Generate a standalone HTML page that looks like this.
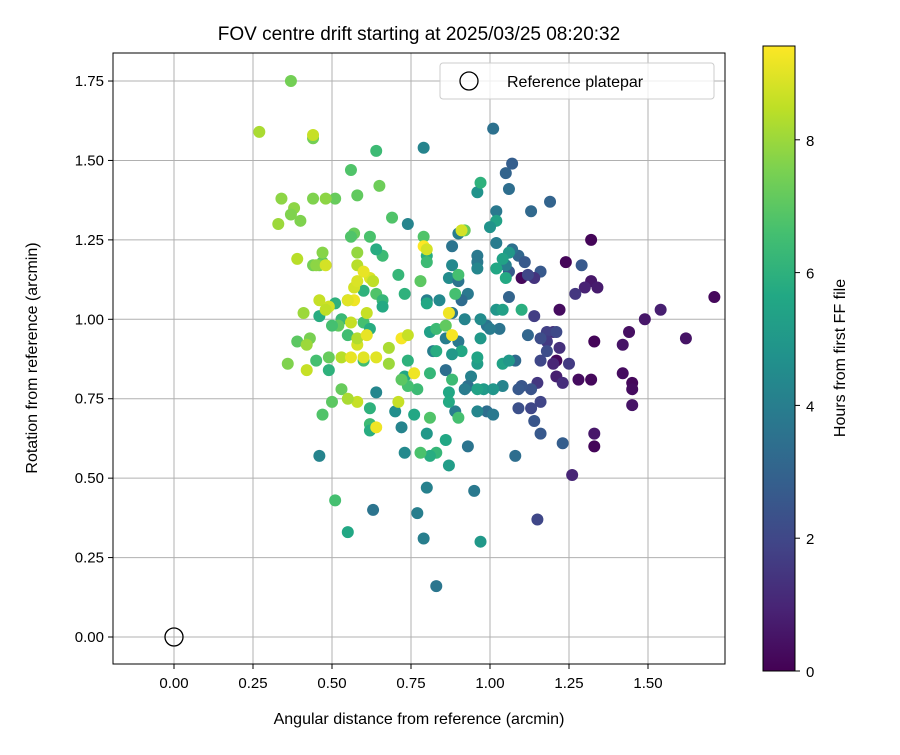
<!DOCTYPE html>
<html><head><meta charset="utf-8"><style>
body{margin:0;background:#fff;}
svg{font-family:"Liberation Sans","DejaVu Sans",sans-serif;}
</style></head><body>
<svg id="chart" width="900" height="750" xmlns="http://www.w3.org/2000/svg">
<rect width="900" height="750" fill="#fff"/>
<text x="419" y="40" font-size="19" text-anchor="middle" fill="#000">FOV centre drift starting at 2025/03/25 08:20:32</text>
<g id="grid"></g>
<g id="points"></g>
<g id="axes"></g>
<text x="419" y="724" font-size="16" text-anchor="middle">Angular distance from reference (arcmin)</text>
<text transform="translate(37,358) rotate(-90)" font-size="16" text-anchor="middle">Rotation from reference (arcmin)</text>
<g>
<rect x="440" y="63" width="274" height="36" fill="#fff" fill-opacity="0.8" stroke="#ccc" rx="3"/>
<circle cx="469" cy="81" r="9" fill="none" stroke="#000" stroke-width="1.3"/>
<text x="507" y="87" font-size="16">Reference platepar</text>
</g>
<defs><linearGradient id="vir" x1="0" y1="1" x2="0" y2="0"></linearGradient></defs>
<g>
<rect x="763" y="46" width="32" height="625" fill="url(#vir)" stroke="#000" stroke-width="1"/>
<g id="cbticks"></g>
<text transform="translate(845,358) rotate(-90)" font-size="16" text-anchor="middle">Hours from first FF file</text>
</g>
</svg>
<script>
const xTicks=[0,0.25,0.5,0.75,1.0,1.25,1.5];
const yTicks=[0,0.25,0.5,0.75,1.0,1.25,1.5,1.75];
const cTicks=[0,2,4,6,8];
const pts=[[1.71,1.07,0.2],[1.62,0.94,0.5],[1.54,1.03,0.8],[1.49,1.0,0.6],[1.44,0.96,0.4],[1.42,0.92,0.5],[1.42,0.83,0.3],[1.45,0.8,0.2],[1.45,0.78,0.3],[1.45,0.73,0.5],[1.32,1.25,0.1],[1.32,1.12,0.6],[1.34,1.1,0.7],[1.3,1.1,0.9],[1.33,0.93,0.1],[1.28,0.81,0.3],[1.32,0.81,0.2],[1.33,0.64,0.6],[1.33,0.6,0.1],[1.24,1.18,0.1],[1.27,1.08,1.5],[1.22,1.03,0.3],[1.21,0.87,0.2],[1.25,0.86,1.6],[1.21,0.82,0.8],[1.23,0.8,1.2],[1.26,0.51,1.0],[1.1,1.13,0.2],[1.14,1.01,1.7],[1.2,0.96,1.2],[1.18,0.96,1.8],[1.18,0.93,1.6],[1.16,0.94,2.2],[1.16,0.87,2.0],[1.15,0.8,1.5],[1.13,0.78,2.4],[1.13,0.72,2.0],[1.16,0.74,1.9],[1.1,0.79,2.5],[1.09,0.78,2.6],[1.09,0.72,2.3],[1.15,0.37,2.0],[1.16,0.64,2.6],[1.14,0.68,2.5],[1.23,0.61,2.8],[1.2,0.86,1.0],[1.18,0.9,2.2],[1.22,0.91,1.3],[1.29,1.17,2.6],[1.16,1.15,2.6],[1.14,1.13,1.4],[1.19,1.37,3.0],[1.07,1.49,2.8],[1.05,1.46,3.0],[1.06,1.41,3.4],[1.13,1.34,3.2],[1.01,1.6,3.5],[1.06,1.15,2.7],[1.09,1.2,3.1],[1.07,1.22,3.5],[1.02,1.34,3.8],[1.02,1.24,3.9],[1.05,1.17,4.0],[1.06,1.07,3.0],[1.11,1.18,2.6],[1.08,0.87,3.2],[1.03,0.97,3.6],[0.99,0.98,3.6],[1.0,0.97,3.9],[1.12,0.95,3.1],[1.21,0.96,2.1],[1.12,1.14,2.0],[0.99,0.71,3.4],[1.01,0.7,3.8],[1.04,0.79,4.2],[1.08,0.57,3.4],[0.93,0.6,3.6],[0.95,0.46,3.8],[0.83,0.16,3.7],[0.79,0.31,4.0],[0.77,0.39,4.0],[0.8,0.47,4.1],[0.63,0.4,3.6],[0.46,0.57,4.2],[0.74,1.3,4.2],[0.79,1.54,4.2],[0.88,1.23,3.6],[0.9,1.27,4.0],[0.88,1.17,4.4],[0.93,1.08,3.8],[0.91,1.06,3.3],[0.92,1.0,4.2],[0.9,0.93,3.8],[0.94,0.82,4.1],[0.93,0.79,3.5],[0.92,0.78,3.9],[0.96,0.71,4.3],[0.89,0.71,4.0],[0.86,0.84,3.4],[0.86,0.94,4.0],[0.82,0.9,4.0],[0.8,1.06,4.0],[0.84,1.06,4.4],[0.88,1.02,3.7],[0.87,1.13,4.5],[0.9,1.12,3.6],[0.96,1.2,3.8],[0.96,1.18,3.8],[0.96,1.16,4.3],[0.97,1.0,4.5],[0.72,0.66,4.2],[0.73,0.58,4.4],[0.7,0.71,4.6],[0.64,0.77,4.3],
[0.96,1.4,4.8],[0.97,1.43,6.0],[1.02,1.31,5.4],[1.0,1.29,4.8],[1.06,1.21,5.0],[1.04,1.19,5.4],[1.02,1.16,5.6],[1.05,1.13,5.7],[1.02,1.03,4.9],[1.04,1.03,5.3],[1.1,1.03,5.9],[1.04,0.86,5.4],[1.06,0.87,5.0],[0.98,0.78,5.1],[1.01,0.78,4.9],[0.96,0.86,5.2],[0.96,0.88,5.5],[0.97,0.94,5.0],[0.96,0.78,5.4],[0.97,0.3,5.0],[0.91,0.9,5.6],[0.88,0.89,5.0],[0.88,0.81,6.4],[0.87,0.77,5.6],[0.87,0.74,5.7],[0.86,0.62,5.6],[0.87,0.54,5.2],[0.9,0.69,6.6],[0.83,0.58,6.2],[0.81,0.57,5.8],[0.8,0.64,5.0],[0.81,0.69,6.8],[0.78,0.58,6.7],[0.76,0.7,5.6],[0.77,0.78,6.4],[0.81,0.83,6.2],[0.83,0.9,5.8],[0.81,0.96,5.3],[0.83,0.97,6.4],[0.8,1.05,5.6],[0.78,1.12,7.0],[0.8,1.2,5.8],[0.8,1.18,6.4],[0.79,1.26,6.8],[0.9,1.14,6.6],[0.92,1.28,7.2],[0.89,1.08,6.6],[0.86,0.98,7.1],[0.73,0.82,5.6],[0.74,0.87,6.0],[0.74,0.79,6.6],[0.72,0.81,7.0],[0.71,1.14,6.2],[0.73,1.08,6.0],[0.69,1.32,6.8],[0.66,1.2,6.4],[0.64,1.22,5.8],[0.64,1.53,6.4],[0.65,1.42,7.3],[0.62,1.26,6.7],[0.64,1.08,6.8],[0.66,1.06,6.2],[0.66,1.04,5.7],[0.6,0.99,6.6],[0.62,0.97,5.8],[0.6,1.09,6.0],[0.56,1.47,6.8],[0.58,1.39,7.1],[0.57,1.27,7.2],[0.56,1.26,6.8],[0.55,1.06,7.0],[0.55,0.95,6.5],[0.51,1.05,6.0],[0.53,1.0,6.3],[0.52,0.98,7.1],[0.6,0.87,6.5],[0.62,0.72,6.0],[0.62,0.67,6.4],[0.62,0.65,5.8],[0.53,0.78,7.2],[0.5,0.74,7.0],[0.47,0.7,6.8],[0.46,1.01,5.8],[0.47,1.18,7.0],[0.51,1.38,7.2],[0.55,0.33,5.6],[0.51,0.43,6.6],[0.49,0.88,7.2],[0.49,0.84,6.0],[0.45,0.87,6.6],[0.5,0.98,6.6],[0.36,0.86,7.6],[0.39,0.93,7.0],[0.43,0.94,7.5],[0.42,0.92,8.0],[0.37,1.75,7.4],[0.44,1.57,7.4],[0.34,1.38,7.8],[0.38,1.35,7.8],[0.37,1.33,7.6],[0.4,1.31,7.6],[0.33,1.3,8.0],[0.44,1.38,7.6],[0.48,1.38,7.8],[0.58,1.21,7.9],[0.46,1.17,7.5],[0.44,1.17,7.4],[0.47,1.21,7.7],[0.45,1.17,7.8],[0.39,1.19,8.4],[0.41,1.02,8.0],[0.42,0.84,8.6],[0.27,1.59,8.2],[0.44,1.58,8.6],[0.46,1.06,8.6],[0.48,1.17,8.8],[0.49,1.04,8.7],[0.48,1.03,8.5],[0.53,0.88,8.4],[0.56,0.99,8.6],[0.58,1.17,8.4],[0.57,1.1,8.8],[0.58,0.92,8.8],[0.58,0.74,8.6],[0.58,0.94,8.3],[0.6,0.88,9.0],[0.61,0.95,9.1],[0.62,1.13,8.9],[0.63,1.12,8.5],[0.64,0.66,9.2],[0.64,0.88,9.0],[0.56,0.88,9.1],[0.57,1.06,9.2],[0.6,1.15,9.1],[0.61,1.02,8.6],[0.55,0.75,8.2],[0.68,0.86,8.0],[0.68,0.91,8.2],[0.71,0.74,8.6],[0.72,0.94,9.3],[0.74,0.95,8.6],[0.76,0.83,9.2],[0.79,1.23,9.4],[0.8,1.22,8.8],[0.87,1.02,9.2],[0.88,0.95,9.3],[0.91,1.28,8.8],[0.58,1.12,8.9],[0.55,1.06,9.0]];
const refPoint=[0,0];
const cMax=9.41;
const NS="http://www.w3.org/2000/svg";
const L=113,R=725,T=53,B=664;
const X=v=>174+v*316, Y=v=>637-v*317.7;
const CY=v=>671-v*66.4;
const vir=["#440154","#482475","#414487","#355f8d","#2a788e","#21918c","#22a884","#44bf70","#7ad151","#bddf26","#fde725"];
function hex(h){return [1,3,5].map(i=>parseInt(h.substr(i,2),16));}
function cmap(t){t=Math.max(0,Math.min(1,t))*10;const i=Math.min(9,Math.floor(t)),f=t-i;const a=hex(vir[i]),b=hex(vir[i+1]);return "rgb("+a.map((c,k)=>Math.round(c+(b[k]-c)*f)).join(",")+")";}
function mk(tag,attrs,parent){const e=document.createElementNS(NS,tag);for(const k in attrs)e.setAttribute(k,attrs[k]);parent.appendChild(e);return e;}
const grid=document.getElementById('grid'),axes=document.getElementById('axes'),pg=document.getElementById('points');
xTicks.forEach(v=>{
 const g=mk('line',{x1:X(v),x2:X(v),y1:T,y2:B,stroke:'#b0b0b0','stroke-width':1},grid);
 
 
 mk('line',{x1:X(v),x2:X(v),y1:B,y2:B+5,stroke:'#000'},axes);
 const t=mk('text',{x:X(v),y:B+24,'font-size':15,'text-anchor':'middle'},axes);t.textContent=v.toFixed(2);
 
 
});
yTicks.forEach(v=>{
 const g=mk('line',{x1:L,x2:R,y1:Y(v),y2:Y(v),stroke:'#b0b0b0','stroke-width':1},grid);
 
 
 mk('line',{x1:L-5,x2:L,y1:Y(v),y2:Y(v),stroke:'#000'},axes);
 const t=mk('text',{x:L-9,y:Y(v)+5,'font-size':15,'text-anchor':'end'},axes);t.textContent=v.toFixed(2);
 
 
});
const fr=mk('rect',{x:L,y:T,width:R-L,height:B-T,fill:'none',stroke:'#000','stroke-width':1},axes);


pts.forEach(p=>{
 const c=mk('circle',{cx:X(p[0]),cy:Y(p[1]),r:6,fill:cmap(p[2]/cMax)},pg);
 
 
});
const rc=mk('circle',{cx:X(refPoint[0]),cy:Y(refPoint[1]),r:9,fill:'none',stroke:'#000','stroke-width':1.3},pg);


const grad=document.getElementById('vir');
vir.forEach((c,i)=>mk('stop',{offset:(i*10)+'%','stop-color':c},grad));
const cb=document.getElementById('cbticks');
cTicks.forEach(v=>{
 mk('line',{x1:795,x2:800,y1:CY(v),y2:CY(v),stroke:'#000'},cb);
 const t=mk('text',{x:806,y:CY(v)+6,'font-size':15},cb);t.textContent=v;
 
 
});
</script>
</body></html>
